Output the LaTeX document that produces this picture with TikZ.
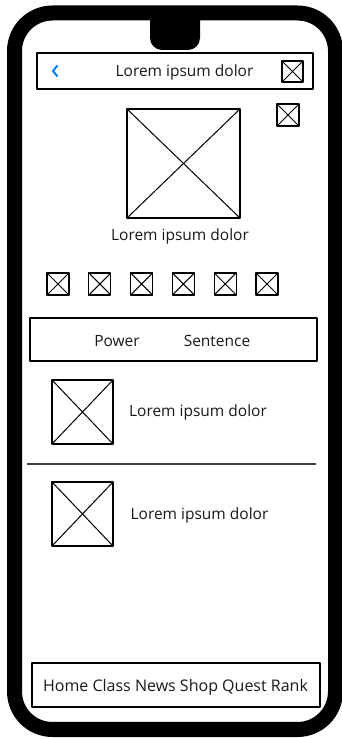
\documentclass[tikz,border=0pt]{standalone}
\usepackage{fontspec}
\setmainfont{Open Sans}
\definecolor{txtcol}{rgb}{0.1,0.1,0.1}
\definecolor{backcol}{rgb}{0.0,0.5,1.0}
\tikzset{
  imgbox/.style={draw,line width=1.3bp,inner sep=0pt,
    path picture={\draw[line width=1bp] (path picture bounding box.north west) -- (path picture bounding box.south east)
      (path picture bounding box.south west) -- (path picture bounding box.north east);}},
  barbox/.style={draw,line width=1.3bp,inner sep=0pt},
  label/.style={text=txtcol,inner sep=0pt,font=\fontsize{15.5bp}{18bp}\selectfont},
}
\begin{document}
\begin{tikzpicture}[x=1bp,y=1bp,line join=round]
  \useasboundingbox (0,0) rectangle (341,738);
%%
  % Phone frame
  \draw[line width=15bp,rounded corners=38bp] (14.5,8.5) rectangle (335.5,725);
  \fill[rounded corners=12bp] (150,730) -- (150,688) -- (200,688) -- (200,730) -- cycle;
  % Node: topbar
  \node[barbox,minimum width=276bp,minimum height=36bp] (topbar) at (175,667) {};
  \draw[backcol,line width=2bp] (57.5,672.5) -- (53,667) -- (57.5,661.5);
  \node[label] (title) at (184.5,666) {Lorem ipsum dolor};
  \node[imgbox,minimum size=21bp] (close) at (292.5,666.5) {};
  % Node: corner
  \node[imgbox,minimum size=22bp] (corner) at (288,623) {};
  % Node: avatar
  \node[imgbox,minimum width=113bp,minimum height=109bp] (avatar) at (183.5,574.5) {};
  \node[label] (name) at (180,502) {Lorem ipsum dolor};
  % Node: badges
  \foreach \i in {0,...,5}
    \node[imgbox,minimum size=22bp] (badge\i) at (58+41.8*\i,454) {};
  % Node: tabs
  \node[barbox,minimum width=287bp,minimum height=43bp] (tabs) at (173.5,398.5) {};
  \node[label] (power) at (117,397) {Power};
  \node[label] (sentence) at (217,397) {Sentence};
  % Node: item1
  \node[imgbox,minimum width=61bp,minimum height=64bp] (pic1) at (82.5,326) {};
  \node[label] (text1) at (198,326) {Lorem ipsum dolor};
  \draw[line width=1.3bp,black!75] (27,274) -- (316,274);
  % Node: item2
  \node[imgbox,minimum width=61bp,minimum height=64bp] (pic2) at (82.5,224) {};
  \node[label] (text2) at (199.5,223) {Lorem ipsum dolor};
  % Node: nav
  \node[barbox,minimum width=288bp,minimum height=44bp] (nav) at (176,53) {};
  \node[label,font=\fontsize{16bp}{18bp}\selectfont] (navtext) at (175.5,50.5) {Home Class News Shop Quest Rank};
%
\end{tikzpicture}
\end{document}
